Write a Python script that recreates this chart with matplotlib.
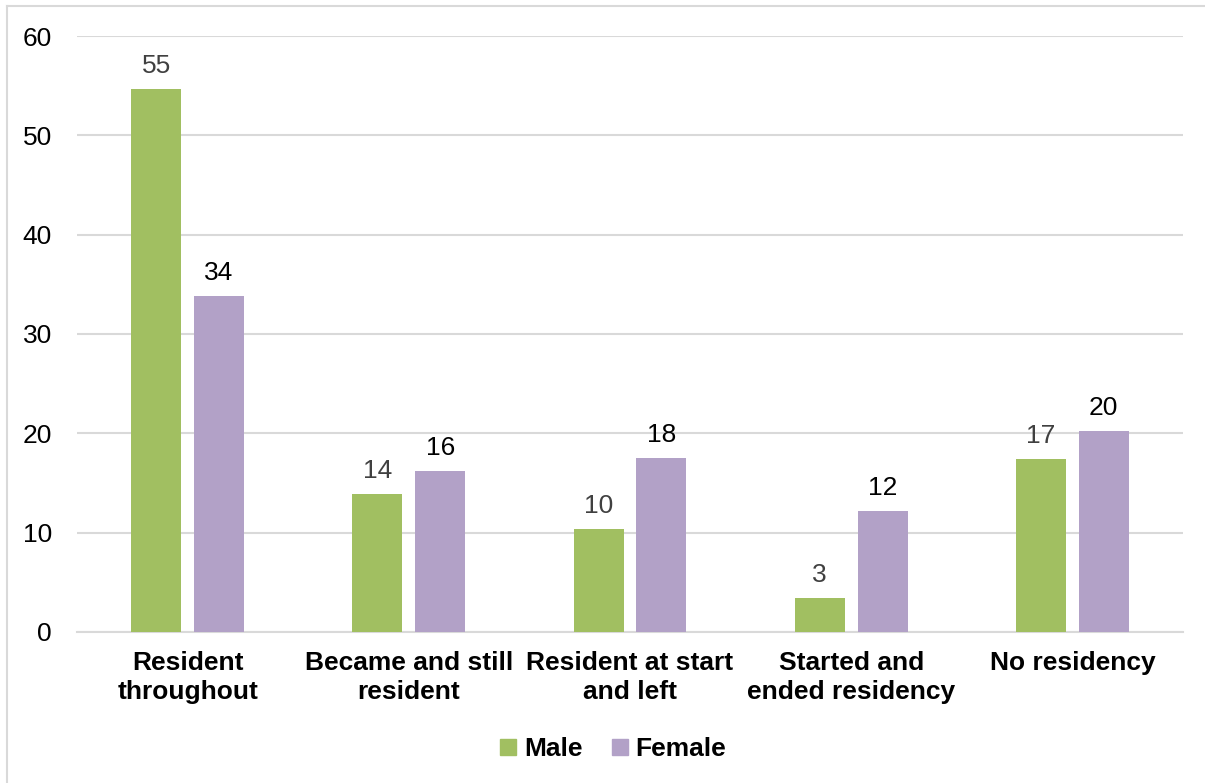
import matplotlib
matplotlib.use("Agg")
import matplotlib.pyplot as plt
from matplotlib.lines import Line2D
import numpy as np

categories = ["Resident\nthroughout", "Became and still\nresident", "Resident at start\nand left",
              "Started and\nended residency", "No residency"]
male = [54.7, 13.9, 10.4, 3.4, 17.4]
female = [33.8, 16.2, 17.5, 12.2, 20.2]
yticks = [0, 10, 20, 30, 40, 50, 60]

GREEN = "#a1bf61"
PURPLE = "#b2a1c7"
GRID = "#d9d9d9"
FS = 19

plt.rcParams["font.family"] = ["Liberation Sans", "DejaVu Sans"]

fig = plt.figure(figsize=(12.05, 7.83), dpi=100)
ax = fig.add_axes([0.0639, 0.1929, 0.9178, 0.7611])

x = np.arange(len(categories))
w = 0.226
off = 0.142
bm = ax.bar(x - off, male, w, color=GREEN, label="Male", zorder=3)
bf = ax.bar(x + off, female, w, color=PURPLE, label="Female", zorder=3)

for rect, v in zip(bm, male):
    ax.annotate(f"{v:.0f}", (rect.get_x() + rect.get_width() / 2, v),
                xytext=(0, 8), textcoords="offset points", ha="center", va="bottom",
                fontsize=FS, color="#404040")
for rect, v in zip(bf, female):
    ax.annotate(f"{v:.0f}", (rect.get_x() + rect.get_width() / 2, v),
                xytext=(0, 8), textcoords="offset points", ha="center", va="bottom",
                fontsize=FS, color="#000000")

ax.set_xlim(-0.5, len(categories) - 0.5)
ax.set_ylim(0, 60)
ax.set_yticks(yticks)
ax.set_yticklabels([str(t) for t in yticks], fontsize=FS)
ax.set_xticks(x)
ax.set_xticklabels(categories, fontsize=FS, fontweight="bold", linespacing=1.25)
ax.tick_params(axis="both", length=0)
ax.tick_params(axis="y", pad=18)
ax.tick_params(axis="x", pad=14)
ax.grid(axis="y", color=GRID, linewidth=1.5, zorder=0)
for s in ["top", "right", "left"]:
    ax.spines[s].set_visible(False)
ax.spines["bottom"].set_color(GRID)
ax.spines["bottom"].set_linewidth(1.5)

handles = [Line2D([], [], marker="s", linestyle="", markersize=11, color=GREEN),
           Line2D([], [], marker="s", linestyle="", markersize=11, color=PURPLE)]
fig.legend(handles, ["Male", "Female"], loc="center", bbox_to_anchor=(0.508, 0.043),
           ncol=2, frameon=False, prop={"size": FS, "weight": "bold"},
           handletextpad=0.2, columnspacing=1.0, handlelength=0.8)

# chart frame (top and left edges)
fig.add_artist(Line2D([0.0058, 0.0058], [0, 0.9917], transform=fig.transFigure,
                      color=GRID, linewidth=1.5))
fig.add_artist(Line2D([0.0058, 1.0], [0.9917, 0.9917], transform=fig.transFigure,
                      color=GRID, linewidth=1.5))

fig.savefig("out.png", dpi=100, facecolor="white")
